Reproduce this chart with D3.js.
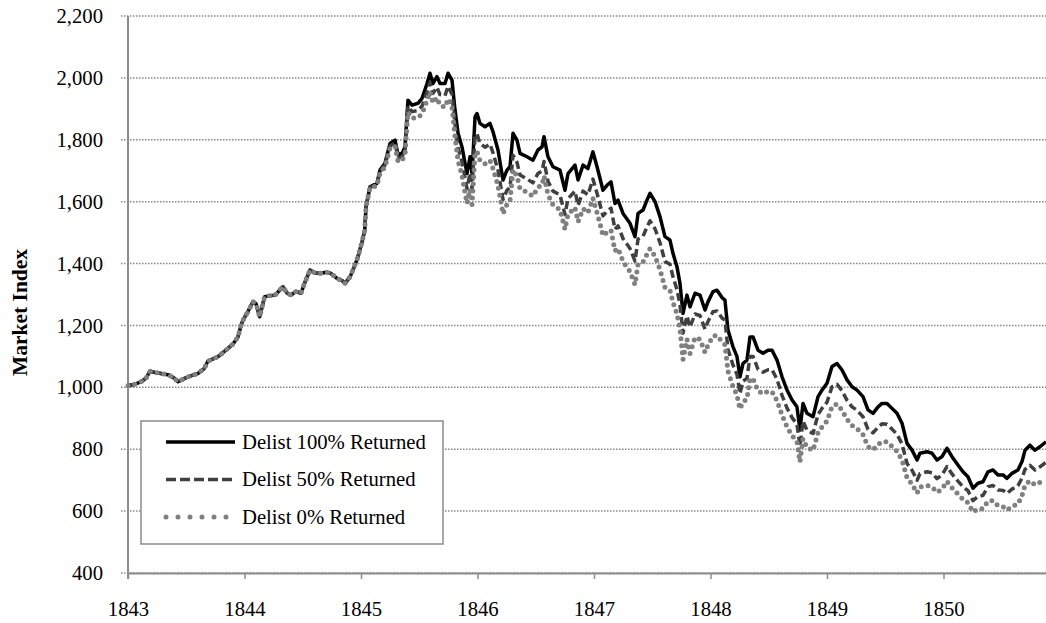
<!DOCTYPE html>
<html><head><meta charset="utf-8">
<script src="https://cdn.jsdelivr.net/npm/d3@7"></script>
<style>body{margin:0;background:#fff;} svg{display:block;font-family:"Liberation Serif","Times New Roman",serif;}</style>
</head><body><svg id="chart" width="1046" height="623"></svg>
<script>
const dates = [
1843.000,1843.060,1843.112,1843.155,1843.189,1843.232,1843.283,1843.352,1843.395,1843.429,
1843.481,1843.532,1843.601,1843.652,1843.687,1843.730,1843.773,1843.815,1843.858,1843.901,
1843.944,1843.970,1843.987,1844.030,1844.073,1844.099,1844.130,1844.173,1844.219,1844.262,
1844.330,1844.365,1844.399,1844.442,1844.485,1844.519,1844.562,1844.605,1844.648,1844.700,
1844.742,1844.794,1844.837,1844.863,1844.906,1844.948,1844.974,1845.009,1845.032,1845.043,
1845.077,1845.137,1845.163,1845.206,1845.249,1845.292,1845.318,1845.352,1845.378,1845.403,
1845.438,1845.489,1845.524,1845.567,1845.592,1845.618,1845.652,1845.678,1845.721,1845.747,
1845.781,1845.807,1845.833,1845.867,1845.893,1845.910,1845.936,1845.953,1845.979,1845.996,
1846.021,1846.064,1846.107,1846.133,1846.176,1846.219,1846.253,1846.279,1846.305,1846.339,
1846.365,1846.425,1846.476,1846.519,1846.554,1846.571,1846.605,1846.648,1846.708,1846.751,
1846.777,1846.837,1846.863,1846.906,1846.948,1846.991,1847.026,1847.052,1847.077,1847.112,
1847.146,1847.180,1847.206,1847.249,1847.309,1847.352,1847.378,1847.421,1847.455,1847.481,
1847.524,1847.567,1847.609,1847.652,1847.678,1847.712,1847.738,1847.764,1847.798,1847.824,
1847.867,1847.910,1847.953,1847.979,1848.021,1848.056,1848.099,1848.124,1848.150,1848.193,
1848.227,1848.253,1848.279,1848.313,1848.339,1848.365,1848.408,1848.451,1848.494,1848.528,
1848.571,1848.614,1848.657,1848.700,1848.742,1848.768,1848.794,1848.828,1848.880,1848.923,
1848.957,1849.000,1849.043,1849.086,1849.129,1849.172,1849.215,1849.258,1849.309,1849.352,
1849.395,1849.438,1849.472,1849.515,1849.558,1849.601,1849.644,1849.687,1849.730,1849.773,
1849.798,1849.858,1849.901,1849.944,1849.987,1850.030,1850.073,1850.124,1850.167,1850.210,
1850.253,1850.296,1850.339,1850.382,1850.425,1850.468,1850.511,1850.545,1850.588,1850.639,
1850.674,1850.700,1850.742,1850.785,1850.828,1850.880
];
const delist100 = [
1005,1010,1018,1030,1052,1048,1045,1040,1030,1018,
1028,1036,1045,1060,1085,1092,1099,1112,1126,1140,
1163,1200,1217,1245,1277,1270,1228,1293,1296,1298,
1325,1305,1298,1310,1304,1340,1379,1370,1368,1372,
1368,1352,1345,1336,1357,1395,1422,1470,1508,1583,
1648,1659,1702,1724,1788,1799,1751,1756,1777,1928,
1912,1918,1934,1982,2015,1982,2004,1982,1982,2015,
1993,1896,1821,1777,1724,1691,1745,1691,1874,1885,
1853,1842,1853,1826,1767,1670,1702,1713,1821,1799,
1756,1745,1734,1767,1777,1810,1745,1713,1702,1637,
1691,1718,1670,1718,1707,1761,1713,1675,1637,1653,
1664,1594,1605,1562,1530,1487,1562,1573,1605,1627,
1600,1551,1487,1476,1433,1390,1336,1239,1298,1260,
1304,1298,1250,1277,1309,1314,1290,1282,1185,1131,
1100,1034,1077,1088,1163,1163,1120,1110,1120,1120,
1088,1034,991,959,937,862,948,916,905,970,
991,1013,1067,1077,1056,1024,1002,991,970,927,
916,937,948,948,932,916,884,819,797,765,
787,792,787,765,776,803,776,749,727,711,
674,690,695,727,733,717,717,706,722,733,
760,797,813,797,808,824
];
const delist50 = [
1005,1010,1018,1030,1052,1048,1045,1040,1030,1018,
1028,1036,1045,1060,1085,1092,1099,1112,1126,1140,
1163,1200,1217,1245,1277,1270,1228,1293,1296,1298,
1325,1305,1298,1310,1304,1340,1379,1370,1368,1372,
1368,1352,1345,1336,1357,1395,1422,1470,1508,1583,
1646,1655,1697,1718,1780,1790,1741,1745,1765,1909,
1891,1895,1909,1954,1985,1950,1970,1946,1942,1973,
1947,1849,1774,1729,1676,1642,1693,1640,1812,1819,
1788,1776,1786,1758,1702,1607,1637,1646,1750,1727,
1686,1673,1661,1691,1699,1730,1666,1634,1622,1558,
1610,1634,1588,1634,1622,1673,1627,1590,1554,1569,
1579,1511,1522,1481,1449,1408,1479,1488,1518,1538,
1512,1467,1407,1398,1357,1316,1267,1175,1231,1194,
1237,1232,1188,1213,1244,1247,1224,1217,1123,1072,
1042,980,1020,1029,1100,1100,1058,1049,1057,1057,
1026,974,933,902,881,810,891,861,851,912,
932,952,1002,1010,989,958,937,926,905,864,
853,871,882,881,865,848,817,754,732,700,
721,727,724,705,717,744,720,697,679,666,
634,647,651,679,683,668,667,657,671,682,
707,735,748,733,743,758
];
const delist0 = [
1005,1010,1018,1030,1052,1048,1045,1040,1030,1018,
1028,1036,1045,1060,1085,1092,1099,1112,1126,1140,
1163,1200,1217,1245,1277,1270,1228,1293,1296,1298,
1325,1305,1298,1310,1304,1340,1379,1370,1368,1372,
1368,1352,1345,1336,1357,1395,1422,1470,1508,1583,
1645,1651,1692,1712,1772,1780,1730,1733,1752,1889,
1870,1872,1884,1927,1955,1919,1936,1911,1905,1932,
1907,1811,1732,1685,1629,1595,1640,1590,1756,1762,
1733,1722,1733,1707,1652,1561,1591,1602,1703,1682,
1642,1630,1618,1647,1654,1683,1623,1590,1574,1511,
1559,1581,1535,1577,1564,1611,1564,1528,1490,1501,
1508,1441,1449,1407,1374,1332,1398,1405,1430,1448,
1424,1380,1323,1314,1275,1237,1189,1090,1155,1109,
1161,1155,1113,1137,1165,1168,1147,1138,1052,1003,
975,930,953,962,1028,1028,989,979,987,986,
957,910,872,844,825,759,834,806,796,854,
872,891,938,946,926,897,877,866,847,808,
798,815,825,824,809,793,765,708,687,658,
678,683,679,661,671,696,675,655,638,627,
597,607,608,632,634,617,614,603,615,623,
650,685,698,685,693,700
];
const seriesNames = ["Delist 100% Returned", "Delist 50% Returned", "Delist 0% Returned"];
const yearTicks = [1843, 1844, 1845, 1846, 1847, 1848, 1849, 1850];
const valueTicks = [400, 600, 800, 1000, 1200, 1400, 1600, 1800, 2000, 2200];
const axisTitle = "Market Index";

const svg = d3.select("#chart");
const x = d3.scaleLinear().domain([1843, 1851]).range([128, 1060]);
const y = d3.scaleLinear().domain([400, 2200]).range([573, 16]);
const axisGray = "#8c8c8c";
const fs = 20.7;

// gridlines
svg.append("g").selectAll("line").data(valueTicks).join("line")
  .attr("x1", 121).attr("x2", 1060)
  .attr("y1", d => y(d)).attr("y2", d => y(d))
  .attr("stroke", "#888").attr("stroke-width", 1.5)
  .attr("stroke-dasharray", "1.5,1.5");

// y axis labels
const yAxis = svg.append("g").attr("transform", `translate(${x(1843)},0)`)
  .call(d3.axisLeft(y).tickValues(valueTicks).tickFormat(d3.format(",")).tickSize(0).tickPadding(25));
yAxis.select(".domain").remove();
yAxis.selectAll("text").attr("font-size", fs).attr("fill", "#000")
  .attr("font-family", "'Liberation Serif','Times New Roman',serif");

// x axis
const xAxis = svg.append("g").attr("transform", `translate(0,${y(400)})`)
  .call(d3.axisBottom(x).tickValues(yearTicks).tickFormat(d3.format("d")).tickSize(6).tickSizeOuter(0).tickPadding(22));
xAxis.select(".domain").attr("stroke", axisGray).attr("stroke-width", 2);
xAxis.selectAll(".tick line").attr("stroke", axisGray).attr("stroke-width", 1.5);
xAxis.selectAll("text").attr("font-size", fs).attr("fill", "#000")
  .attr("font-family", "'Liberation Serif','Times New Roman',serif");

// y axis line
svg.append("line").attr("x1", x(1843)).attr("x2", x(1843))
  .attr("y1", y(2200)).attr("y2", y(400) + 6)
  .attr("stroke", axisGray).attr("stroke-width", 2);

// axis title
svg.append("text").attr("transform", `translate(27,${(y(400)+y(2200))/2 + 18}) rotate(-90)`)
  .attr("text-anchor", "middle").attr("font-size", 21.5).attr("font-weight", "bold")
  .attr("fill", "#000").text(axisTitle);

// series
const series = [
  {name: seriesNames[0], values: delist100, color: "#000000", width: 3.5, dash: null, cap: "butt", legDash: null},
  {name: seriesNames[1], values: delist50, color: "#404040", width: 3.5, dash: "8,4", cap: "butt", legDash: "10,4"},
  {name: seriesNames[2], values: delist0, color: "#808080", width: 5, dash: "0,7", cap: "round", legDash: "0,12"}
];
const line = d3.line().x((d, i) => x(dates[i])).y(d => y(d));
series.forEach(s => {
  svg.append("path").datum(s.values)
    .attr("d", line).attr("fill", "none")
    .attr("stroke", s.color).attr("stroke-width", s.width)
    .attr("stroke-linejoin", "round").attr("stroke-linecap", s.cap)
    .attr("stroke-dasharray", s.dash);
});

// legend
const lg = svg.append("g");
lg.append("rect").attr("x", 141).attr("y", 421).attr("width", 302).attr("height", 123)
  .attr("fill", "#fff").attr("stroke", axisGray).attr("stroke-width", 1.5);
const rowY = [442, 479.5, 517];
series.forEach((s, i) => {
  lg.append("line").attr("x1", 166).attr("x2", 235).attr("y1", rowY[i]).attr("y2", rowY[i])
    .attr("stroke", s.color).attr("stroke-width", s.width)
    .attr("stroke-linecap", s.cap).attr("stroke-dasharray", s.legDash);
  lg.append("text").attr("x", 242).attr("y", rowY[i]).attr("dy", "0.33em")
    .attr("font-size", fs).attr("fill", "#000").text(s.name);
});
</script>
</body></html>
